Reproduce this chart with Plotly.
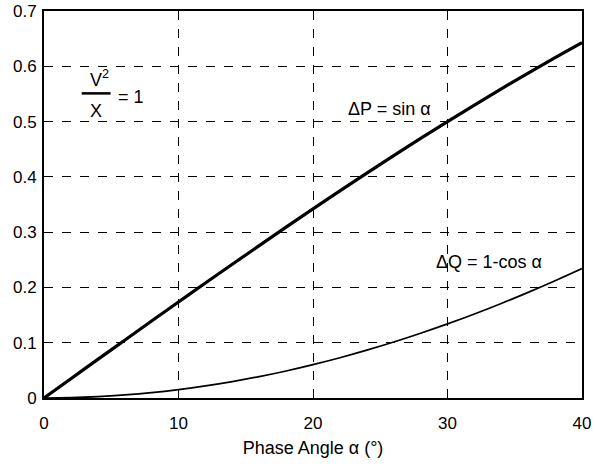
import plotly.graph_objects as go

# Phase angle (degrees)
alpha = [0, 2, 4, 6, 8, 10, 12, 14, 16, 18, 20, 22, 24, 26, 28, 30, 32, 34, 36, 38, 40]
# Delta P = sin(alpha)
delta_p = [0.0, 0.0349, 0.0698, 0.1045, 0.1392, 0.1736, 0.2079, 0.2419, 0.2756, 0.3090,
           0.3420, 0.3746, 0.4067, 0.4384, 0.4695, 0.5000, 0.5299, 0.5592, 0.5878, 0.6157, 0.6428]
# Delta Q = 1 - cos(alpha)
delta_q = [0.0, 0.0006, 0.0024, 0.0055, 0.0097, 0.0152, 0.0219, 0.0297, 0.0387, 0.0489,
           0.0603, 0.0728, 0.0865, 0.1012, 0.1171, 0.1340, 0.1520, 0.1710, 0.1910, 0.2120, 0.2340]

x_ticks = [0, 10, 20, 30, 40]
y_ticks = [0, 0.1, 0.2, 0.3, 0.4, 0.5, 0.6, 0.7]
y_tick_labels = ["0", "0.1", "0.2", "0.3", "0.4", "0.5", "0.6", "0.7"]

FONT = "Liberation Sans, Arial, Helvetica, sans-serif"

fig = go.Figure()
fig.add_trace(go.Scatter(x=alpha, y=delta_p, mode="lines", line=dict(color="black", width=3.2, shape="spline"),
                         showlegend=False, hoverinfo="skip"))
fig.add_trace(go.Scatter(x=alpha, y=delta_q, mode="lines", line=dict(color="black", width=1.7, shape="spline"),
                         showlegend=False, hoverinfo="skip"))

axis_common = dict(showline=True, linecolor="black", linewidth=2, mirror=True,
                   showgrid=True, gridcolor="black", gridwidth=1, griddash="dash",
                   zeroline=False, ticks="", automargin=False,
                   tickfont=dict(size=17, color="black", family=FONT))

fig.update_xaxes(range=[0, 40], tickvals=x_ticks, ticktext=[str(v) for v in x_ticks],
                 ticklabelstandoff=9,
                 title=dict(text="Phase Angle α (°)", font=dict(size=18, color="black", family=FONT), standoff=9),
                 **axis_common)
fig.update_yaxes(range=[0, 0.7], tickvals=y_ticks, ticktext=y_tick_labels,
                 ticklabelstandoff=2, **axis_common)

ann_font = dict(size=18, color="black", family=FONT)
fig.add_annotation(x=25.7, y=0.523, text="ΔP = sin α", showarrow=False, font=ann_font)
fig.add_annotation(x=33.1, y=0.246, text="ΔQ = 1-cos α", showarrow=False, font=ann_font)
fig.add_annotation(x=4.15, y=0.578, text="V<sup>2</sup>", showarrow=False, font=ann_font)
fig.add_annotation(x=3.9, y=0.52, text="X", showarrow=False, font=ann_font)
fig.add_annotation(x=6.5, y=0.544, text="= 1", showarrow=False, font=ann_font)
fig.add_shape(type="line", x0=2.8, x1=4.95, y0=0.551, y1=0.551, xref="x", yref="y",
              line=dict(color="black", width=2.5))

fig.update_layout(width=595, height=469, margin=dict(l=44, r=13, t=11, b=71),
                  plot_bgcolor="white", paper_bgcolor="white",
                  font=dict(family=FONT, color="black"))

fig.write_html("out.html", config={"displayModeBar": False},
               post_script="document.body.style.margin='0';document.body.style.overflow='hidden';")
